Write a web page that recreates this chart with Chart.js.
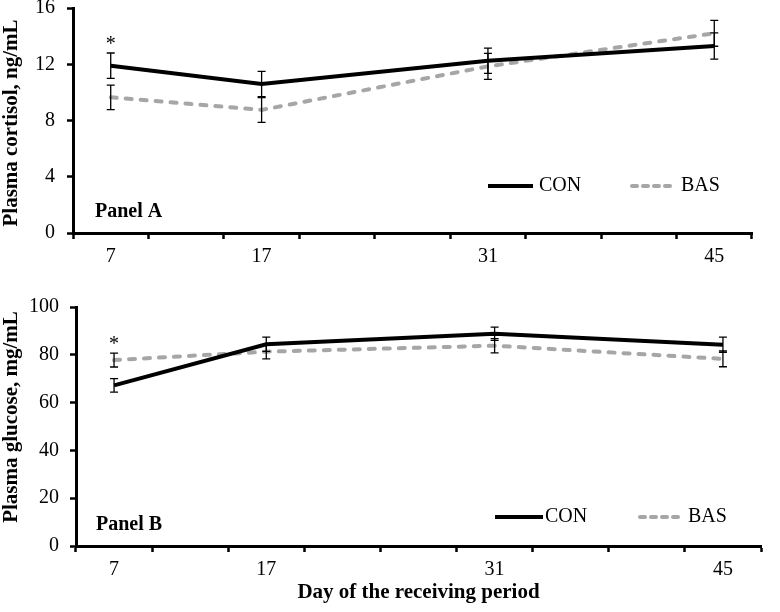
<!DOCTYPE html>
<html><head><meta charset="utf-8">
<script src="https://cdn.jsdelivr.net/npm/chart.js@4/dist/chart.umd.min.js"></script>
<style>
html,body{margin:0;padding:0;background:#fff;}
#wrapA{position:absolute;left:0;top:0;width:780px;height:268px;}
#wrapB{position:absolute;left:0;top:268px;width:780px;height:344px;}
</style></head><body>
<div id="wrapA"><canvas id="cA"></canvas></div>
<div id="wrapB"><canvas id="cB"></canvas></div>
<script>
// ---- data ----
const dayLabels = ['7','','17','','','31','','','45'];
const seriesNames = ['CON','BAS'];
const cortisolCON   = [11.9, null, 10.6, null, null, 12.25, null, null, 13.3];
const cortisolCONse = [0.9,  null, 0.9,  null, null, 0.9,   null, null, 0.93];
const cortisolBAS   = [9.65, null, 8.75, null, null, 11.85, null, null, 14.2];
const cortisolBASse = [0.87, null, 0.88, null, null, 0.93,  null, null, 0.92];
const cortisolSig   = ['*',  null, null, null, null, null,  null, null, null];
const cortisolTicks = [0, 4, 8, 12, 16];
const glucoseCON    = [67.2, null, 84.4, null, null, 88.8, null, null, 84.2];
const glucoseCONse  = [2.8,  null, 3.0,  null, null, 2.8,  null, null, 3.2];
const glucoseBAS    = [77.8, null, 81.3, null, null, 83.8, null, null, 78.3];
const glucoseBASse  = [2.9,  null, 3.0,  null, null, 3.0,  null, null, 3.3];
const glucoseSig    = ['*',  null, null, null, null, null, null, null, null];
const glucoseTicks  = [0, 20, 40, 60, 80, 100];

const FONT = "'Liberation Serif','Times New Roman',serif";
Chart.defaults.font.family = FONT;
Chart.defaults.color = '#000';

function overlay(o){
  return {
    id:'overlay',
    afterDatasetsDraw(chart){
      const ctx = chart.ctx, xs = chart.scales.x, ys = chart.scales.y;
      ctx.save();
      // error bars
      ctx.strokeStyle = '#000'; ctx.lineWidth = 1.3; ctx.setLineDash([]); ctx.lineCap = 'butt';
      chart.data.datasets.forEach(ds=>{
        ds.se.forEach((se,i)=>{
          const v = ds.data[i]; if (v==null || se==null) return;
          const x = xs.getPixelForValue(i);
          const y1 = ys.getPixelForValue(v+se), y2 = ys.getPixelForValue(v-se);
          ctx.beginPath();
          ctx.moveTo(x,y1); ctx.lineTo(x,y2);
          ctx.moveTo(x-4,y1); ctx.lineTo(x+4,y1);
          ctx.moveTo(x-4,y2); ctx.lineTo(x+4,y2);
          ctx.stroke();
        });
      });
      // significance marks
      ctx.fillStyle = '#000';
      ctx.font = '20px ' + FONT; ctx.textAlign = 'center'; ctx.textBaseline = 'alphabetic';
      o.sig.forEach((s,i)=>{
        if (!s) return;
        let top = -Infinity;
        chart.data.datasets.forEach(ds=>{ if (ds.data[i]!=null) top = Math.max(top, ds.data[i] + (ds.se[i]||0)); });
        ctx.fillText(s, xs.getPixelForValue(i), ys.getPixelForValue(top) - 3);
      });
      // panel label
      ctx.font = 'bold 20px ' + FONT; ctx.textAlign = 'left'; ctx.textBaseline = 'middle';
      ctx.fillText(o.panel, o.panelX, o.panelY);
      // legend
      ctx.font = '20px ' + FONT;
      chart.data.datasets.forEach((ds,k)=>{
        const L = o.legend[k];
        ctx.strokeStyle = ds.borderColor; ctx.lineWidth = 4;
        if (k===1){ ctx.setLineDash([5,6]); ctx.lineCap='round'; } else { ctx.setLineDash([]); ctx.lineCap='butt'; }
        ctx.beginPath(); ctx.moveTo(L[0] + (k===1?2:0), o.legendY); ctx.lineTo(L[1], o.legendY); ctx.stroke();
        ctx.setLineDash([]); ctx.lineCap='butt';
        ctx.fillText(ds.label, L[2], o.legendY);
      });
      // y title
      ctx.font = 'bold 21px ' + FONT; ctx.textAlign = 'center'; ctx.textBaseline = 'middle';
      ctx.translate(o.yTitleX, o.yTitleY); ctx.rotate(-Math.PI/2);
      ctx.fillText(o.yTitle, 0, 0);
      ctx.restore();
    }
  };
}

function makeChart(id, d, o){
  const ticks = o.ticks;
  return new Chart(document.getElementById(id), {
    type:'line',
    data:{
      labels: dayLabels,
      datasets:[
        {label:seriesNames[0], data:d.con, se:d.conSe, borderColor:'#000', borderWidth:4,
         pointRadius:0, pointHoverRadius:0, spanGaps:true, tension:0, borderCapStyle:'butt'},
        {label:seriesNames[1], data:d.bas, se:d.basSe, borderColor:'#a6a6a6', borderWidth:4,
         borderDash:[6,9], pointRadius:0, pointHoverRadius:0, spanGaps:true, tension:0, borderCapStyle:'round'}
      ]
    },
    options:{
      responsive:true, maintainAspectRatio:false, animation:false,
      layout:{padding:{top:o.padTop, right:o.padRight, left:0, bottom:0}},
      plugins:{legend:{display:false}, tooltip:{enabled:false}},
      scales:{
        x:{
          type:'category', offset:true,
          grid:{offset:true, drawOnChartArea:false, drawTicks:true, tickLength:6, tickWidth:2.5, tickColor:'#000'},
          border:{display:true, color:'#000', width:3},
          ticks:{autoSkip:false, maxRotation:0, padding:6, font:{size:20}, color:'#000'},
          title:{display:!!o.xTitle, text:o.xTitle||'', font:{size:21, weight:'bold'}, color:'#000', padding:{top:0,bottom:7}},
          afterFit(s){ s.height = o.xHeight; s.paddingLeft = 0; s.paddingRight = 0; }
        },
        y:{
          min:ticks[0], max:ticks[ticks.length-1],
          grid:{drawOnChartArea:false, drawTicks:true, tickLength:6, tickWidth:2.5, tickColor:'#000'},
          border:{display:true, color:'#000', width:3},
          ticks:{stepSize:ticks[1]-ticks[0], padding:o.yPad, font:{size:20}, color:'#000'},
          afterFit(s){ s.width = o.yWidth; s.paddingTop = 0; s.paddingBottom = 0; }
        }
      }
    },
    plugins:[overlay(o)]
  });
}

makeChart('cA',
  {con:cortisolCON, conSe:cortisolCONse, bas:cortisolBAS, basSe:cortisolBASse},
  {ticks:cortisolTicks, sig:cortisolSig, padTop:8, padRight:28, xHeight:35, yWidth:73, yPad:12,
   panel:'Panel A', panelX:95, panelY:212, legend:[[488,533,539],[630,672,681]], legendY:186,
   yTitle:'Plasma cortisol, ng/mL', yTitleX:12, yTitleY:123});

makeChart('cB',
  {con:glucoseCON, conSe:glucoseCONse, bas:glucoseBAS, basSe:glucoseBASse},
  {ticks:glucoseTicks, sig:glucoseSig, padTop:39, padRight:19, xHeight:66, yWidth:76, yPad:11,
   panel:'Panel B', panelX:96, panelY:257, legend:[[495,543,545],[638,678,688]], legendY:249,
   yTitle:'Plasma glucose, mg/mL', yTitleX:12, yTitleY:149,
   xTitle:'Day of the receiving period'});
</script>
</body></html>
